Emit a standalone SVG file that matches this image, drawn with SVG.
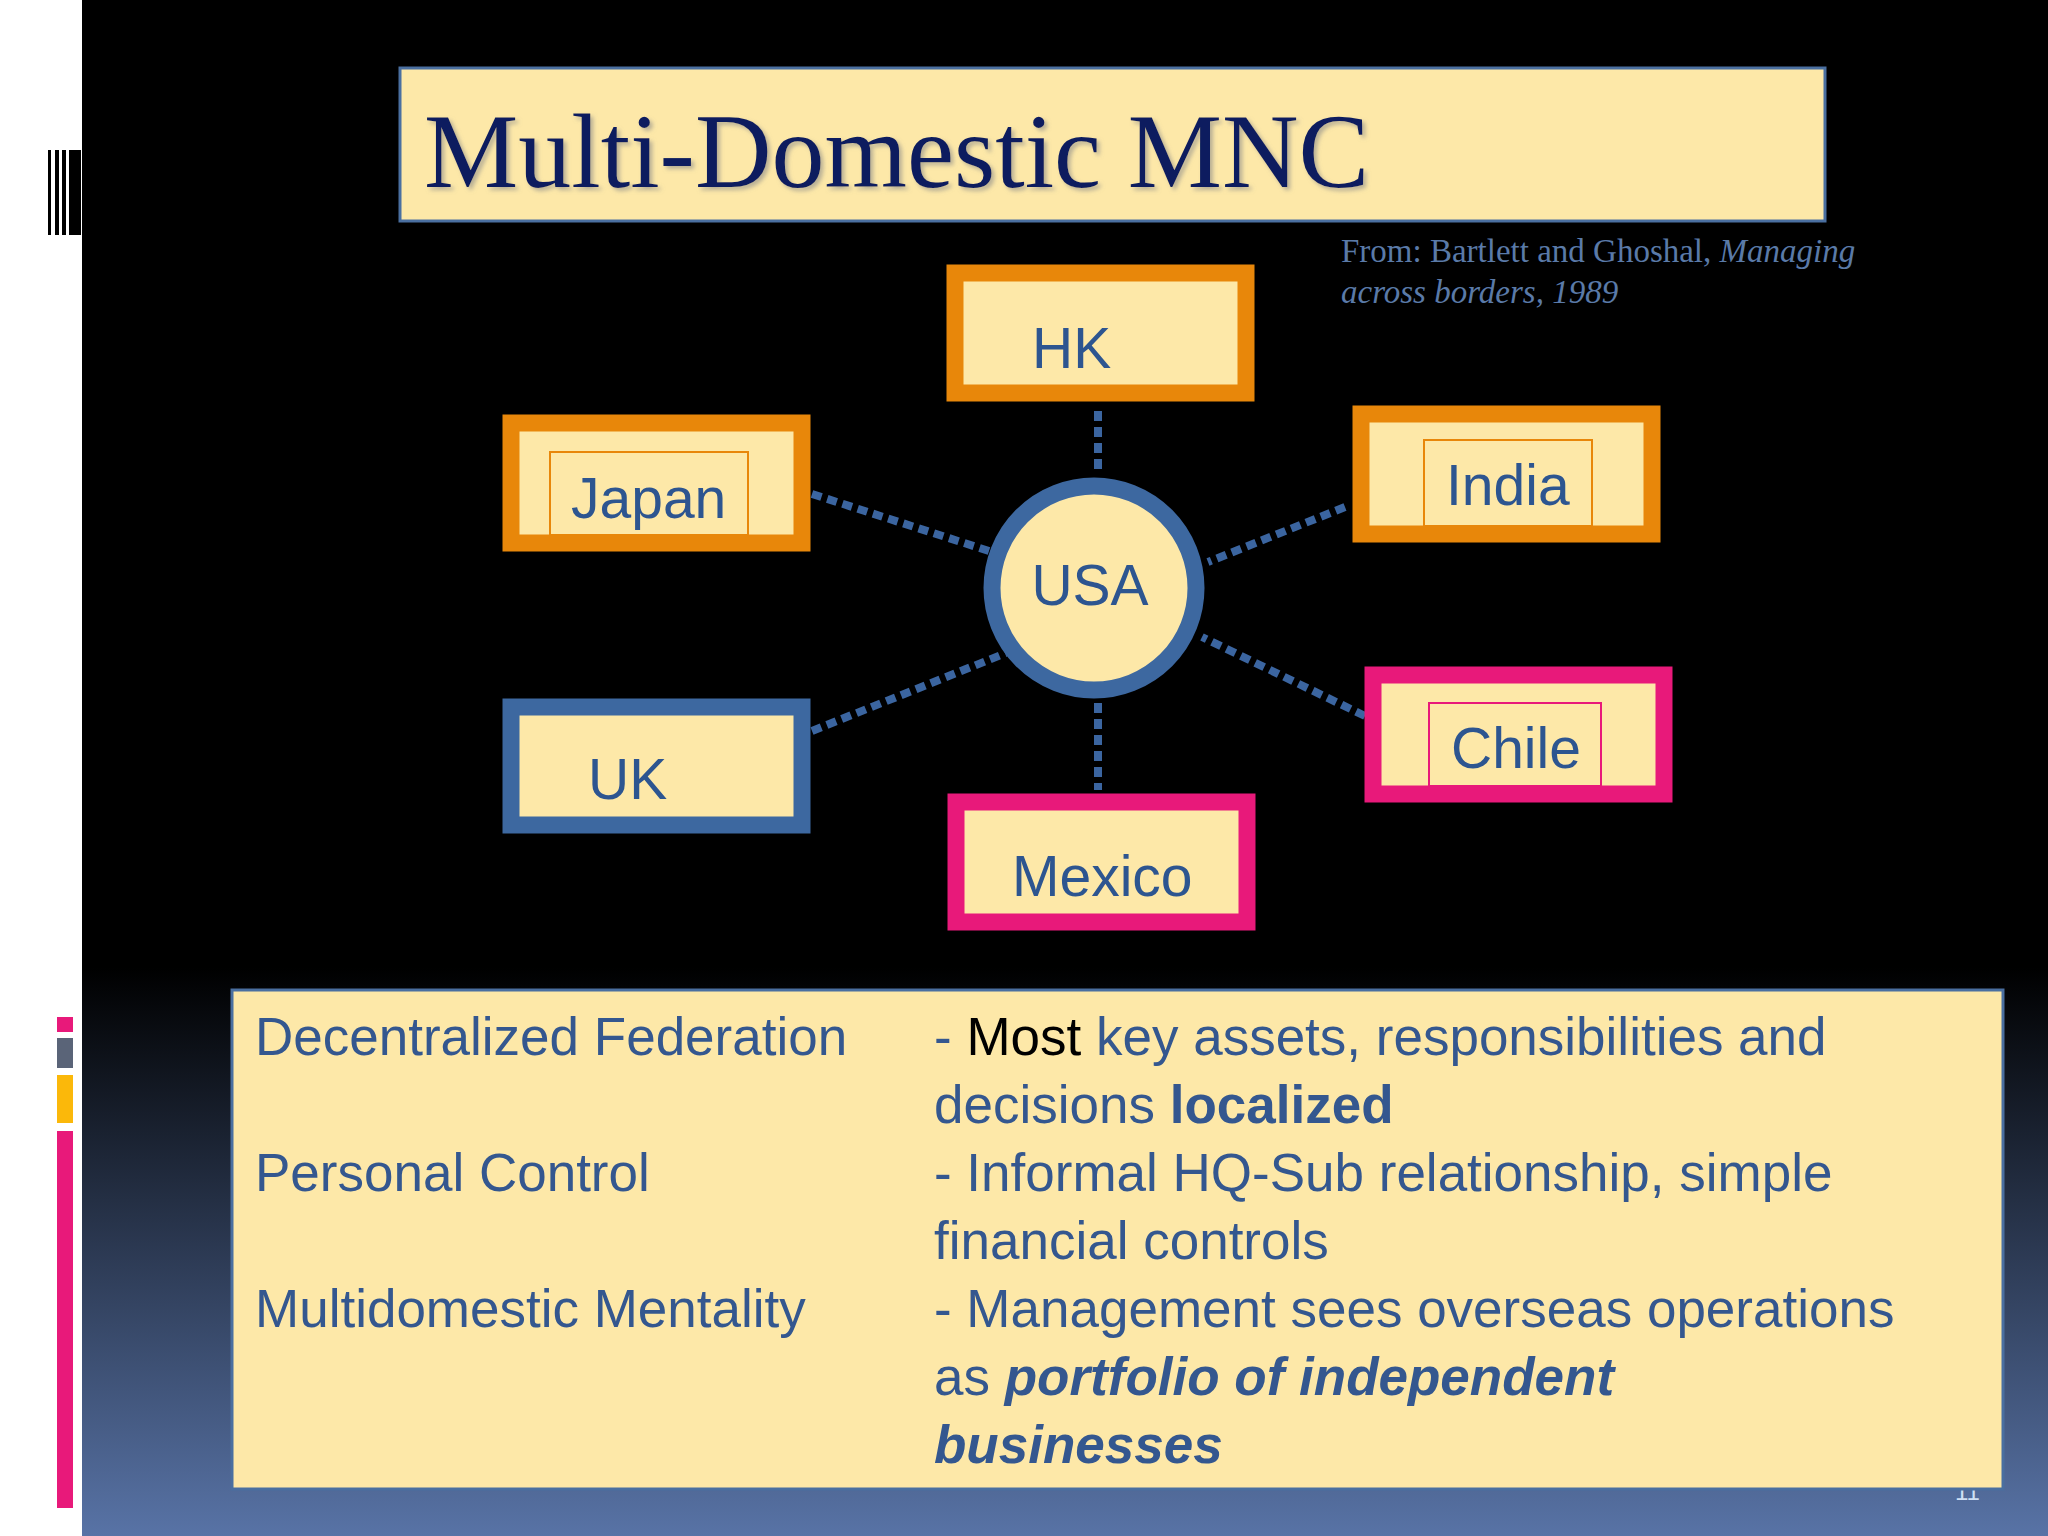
<svg xmlns="http://www.w3.org/2000/svg" width="2048" height="1536" viewBox="0 0 2048 1536">
<defs>
<linearGradient id="bg" x1="0" y1="0" x2="0" y2="1">
<stop offset="0" stop-color="#000"/><stop offset="0.63" stop-color="#000"/><stop offset="1" stop-color="#5873a6"/>
</linearGradient>
<filter id="sh"><feDropShadow dx="3" dy="3" stdDeviation="2" flood-color="#888" flood-opacity="0.6"/></filter>
</defs>
<style>
.bx{fill:#fde8a8;stroke-width:17}
.o{stroke:#e8870a}.p{stroke:#e8197a}.b{stroke:#3d68a0}
.in{fill:none;stroke-width:2}
.lb{font-family:"Liberation Sans",Arial,sans-serif;font-size:57px;fill:#2d5590}
.dl{stroke:#3b65a0;stroke-width:8;stroke-dasharray:10 6;fill:none}
.t{font-family:"Liberation Sans",Arial,sans-serif;font-size:53px;fill:#34578f}
</style>
<rect width="2048" height="1536" fill="#fff"/>
<rect x="82" width="1966" height="1536" fill="url(#bg)"/>
<g fill="#000"><rect x="48" y="150" width="3" height="85"/><rect x="55" y="150" width="4" height="85"/><rect x="62" y="150" width="4" height="85"/><rect x="69" y="150" width="12" height="85"/></g>
<rect x="57" y="1017" width="16" height="15" fill="#e8197a"/>
<rect x="57" y="1038" width="16" height="30" fill="#5a6478"/>
<rect x="57" y="1075" width="16" height="48" fill="#fbb80a"/>
<rect x="57" y="1131" width="16" height="377" fill="#e8197a"/>
<text x="1955" y="1500" font-family="Liberation Sans,sans-serif" font-size="24" fill="#cfe0f5">11</text>
<g id="title"><rect x="400" y="68" width="1425" height="153" fill="#fde8a8" stroke="#4a6fa0" stroke-width="3"/>
<text x="424" y="187" font-family="Liberation Serif,serif" font-size="106" fill="#0e1f5e" filter="url(#sh)">Multi-Domestic MNC</text></g>
<g id="cite" font-family="Liberation Serif,serif" font-size="33" fill="#5a7aa8"><text x="1341" y="262">From: Bartlett and Ghoshal, <tspan font-style="italic">Managing</tspan></text><text x="1341" y="303" font-style="italic">across borders, 1989</text></g>
<g id="connectors">
<line class="dl" x1="1098" y1="411" x2="1098" y2="470"/>
<line class="dl" x1="1098" y1="703" x2="1098" y2="790"/>
<line class="dl" x1="812" y1="494" x2="989" y2="551"/>
<line class="dl" x1="1345" y1="507" x2="1208" y2="562"/>
<line class="dl" x1="812" y1="731" x2="1006" y2="653"/>
<line class="dl" x1="1365" y1="716" x2="1202" y2="637"/>
</g>
<g id="hk"><rect class="bx o" x="955" y="273" width="291" height="120"/><text class="lb" x="1032" y="368">HK</text></g>
<g id="japan"><rect class="bx o" x="511" y="423" width="291" height="120"/><rect class="in o" x="550" y="452" width="198" height="83"/><text class="lb" x="571" y="518">Japan</text></g>
<g id="india"><rect class="bx o" x="1361" y="414" width="291" height="120"/><rect class="in o" x="1424" y="440" width="168" height="86"/><text class="lb" x="1446" y="505">India</text></g>
<g id="uk"><rect class="bx b" x="511" y="707" width="291" height="118"/><text class="lb" x="588" y="799">UK</text></g>
<g id="mexico"><rect class="bx p" x="956" y="802" width="291" height="120"/><text class="lb" x="1012" y="896">Mexico</text></g>
<g id="chile"><rect class="bx p" x="1373" y="675" width="291" height="119"/><rect class="in p" x="1429" y="703" width="172" height="83"/><text class="lb" x="1451" y="768">Chile</text></g>
<g id="usa"><circle cx="1094" cy="588" r="102" fill="#fde8a8" stroke="#3d68a0" stroke-width="17"/><text class="lb" x="1090" y="605" text-anchor="middle" font-size="60">USA</text></g>
<g id="table"><rect x="232" y="990" width="1771" height="499" fill="#fde8a8" stroke="#4a6fa0" stroke-width="3"/>
<text class="t" x="255" y="1055">Decentralized Federation</text>
<text class="t" x="255" y="1191">Personal Control</text>
<text class="t" x="255" y="1327">Multidomestic Mentality</text>
<text class="t" x="934" y="1055">- <tspan fill="#000">Most</tspan> key assets, responsibilities and</text>
<text class="t" x="934" y="1123">decisions <tspan font-weight="bold">localized</tspan></text>
<text class="t" x="934" y="1191">- Informal HQ-Sub relationship, simple</text>
<text class="t" x="934" y="1259">financial controls</text>
<text class="t" x="934" y="1327">- Management sees overseas operations</text>
<text class="t" x="934" y="1395">as <tspan font-weight="bold" font-style="italic">portfolio of independent</tspan></text>
<text class="t" x="934" y="1463" font-weight="bold" font-style="italic">businesses</text></g>
</svg>
